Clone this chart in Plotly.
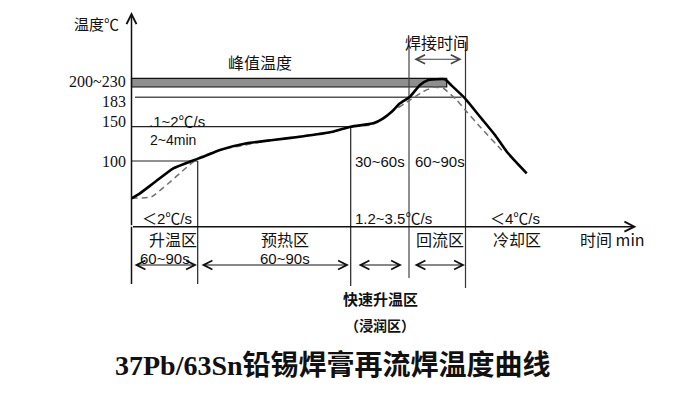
import plotly.graph_objects as go

# ---- schematic data (time position, temperature position) ----
solid_t = [0, 8.5, 21.8, 41.8, 60.2, 71.8, 88.5, 115.2, 141.5, 168.5, 201.5, 219.2,
           241.8, 251.8, 260.2, 268.5, 278.5, 288.5, 296.8, 304.5, 313.5, 318.5,
           333.5, 348.5, 363.5, 375.5, 395.2]
solid_T = [28.4, 33.4, 43.4, 58.4, 65.7, 70, 76.7, 83.4, 86.7, 90, 95, 100,
           103.4, 108.4, 115, 123.4, 130, 141.7, 146.7, 147.4, 147.4, 142.7,
           128.4, 110, 91.7, 74.7, 53.4]

dashed_t = [0, 20.2, 66.2, 88.5, 141.5, 201.5, 219.2, 240.2, 258.5, 278.5, 291.5,
            301.8, 311.8, 325.2, 335.2, 348.5, 370.2, 373.5]
dashed_T = [28.4, 30, 68.4, 76.7, 86.7, 95, 100, 101.7, 113.7, 126.7, 135,
            139.4, 138.4, 126.7, 115, 100, 76.7, 74.7]

tick_labels = ["100", "150", "183", "200~230"]
tick_levels = [65, 105, 125, 145]
level_100, level_150, level_183 = 65.7, 100, 129.4
band_low, band_high, band_end = 139.7, 148.4, 315.2

zone_bounds = [0, 66.2, 219.2, 277.5, 334]
zone_names = ["升温区", "预热区", "回流区", "冷却区"]
zone_name_t = [41.2, 153.5, 308.5, 385.2]
zone_rates = ["＜2℃/s", "1.2~3.5℃/s", "＜4℃/s"]
zone_rate_t = [8.5, 221.5, 356.5]

FS = "Noto Sans CJK SC"
SANS = "Liberation Sans, Noto Sans CJK SC"
SERIF = "Liberation Serif, Noto Sans CJK SC"
INK = "#111111"

fig = go.Figure()

# dashed curve first, then solid on top
fig.add_trace(go.Scatter(x=dashed_t, y=dashed_T, mode="lines",
                         line=dict(color="#707070", width=1.5, dash="6px,4px", shape="spline", smoothing=0.4),
                         hoverinfo="skip"))
fig.add_trace(go.Scatter(x=solid_t, y=solid_T, mode="lines",
                         line=dict(color="#000000", width=2.6, shape="spline", smoothing=0.5),
                         hoverinfo="skip"))

shapes = []
# peak band
shapes.append(dict(type="rect", x0=0, x1=band_end, y0=band_low, y1=band_high,
                   fillcolor="#8e8e8e", line=dict(color="#111", width=1.2), layer="below"))
# level lines
shapes.append(dict(type="line", x0=3.5, x1=330, y0=level_183, y1=level_183,
                   line=dict(color="#555", width=1.4), layer="below"))
shapes.append(dict(type="line", x0=0, x1=zone_bounds[2], y0=level_150, y1=level_150,
                   line=dict(color="#222", width=1.2), layer="below"))
shapes.append(dict(type="line", x0=0, x1=zone_bounds[1], y0=level_100, y1=level_100,
                   line=dict(color="#222", width=1.2), layer="below"))
# vertical zone lines
shapes.append(dict(type="line", x0=zone_bounds[1], x1=zone_bounds[1], y0=level_100, y1=-57.3,
                   line=dict(color="#222", width=1.2), layer="below"))
shapes.append(dict(type="line", x0=zone_bounds[2], x1=zone_bounds[2], y0=level_150, y1=-59.3,
                   line=dict(color="#222", width=1.2), layer="below"))
shapes.append(dict(type="line", x0=zone_bounds[3], x1=zone_bounds[3], y0=185, y1=-51.3,
                   line=dict(color="#444", width=1.2), layer="below"))
shapes.append(dict(type="line", x0=zone_bounds[4], x1=zone_bounds[4], y0=185, y1=-61.3,
                   line=dict(color="#333", width=1.2), layer="below"))
# y axis extension below x axis
shapes.append(dict(type="line", x0=0, x1=0, y0=0, y1=-57.3,
                   line=dict(color="#111", width=1.5), layer="below"))

annotations = []

def arrow(x, y, ax, ay, both=False, width=1.3, size=1.4, color="#111"):
    annotations.append(dict(x=x, y=y, ax=ax, ay=ay, xref="x", yref="y", axref="x", ayref="y",
                            text="", showarrow=True, arrowhead=5, startarrowhead=5,
                            arrowside="end+start" if both else "end",
                            arrowwidth=width, arrowsize=size, startarrowsize=size,
                            arrowcolor=color))

def txt(s, x, y, size=15, family=FS, xanchor="center", bold=False, color=INK):
    if bold:
        s = "<b>" + s + "</b>"
    annotations.append(dict(x=x, y=y, xref="x", yref="y", text=s, showarrow=False,
                            xanchor=xanchor, yanchor="middle",
                            font=dict(family=family, size=size, color=color)))

# axes with arrowheads
arrow(0, 214.7, 0, 0, width=1.5, size=1.3)
arrow(505, 0, 0, 0, width=1.5, size=1.3)

# duration arrows
arrow(330.2, 167.4, 281.2, 167.4, both=True, width=1.1, size=1.6, color="#444")
arrow_y = -38.3
arrow_spans = [(1.5, 65.5), (68.5, 217.5), (225.5, 270.5), (281.5, 333.5)]
for a, b in arrow_spans:
    arrow(b, arrow_y, a, arrow_y, both=True, width=1.1, size=1.6)

# tick labels
for lab, lv in zip(tick_labels, tick_levels):
    txt(lab, -3.5, lv, size=16, family=SERIF, xanchor="right")

txt("温度℃", -34.8, 203.4, size=15)
txt("峰值温度", 128.5, 165, size=16)
txt(".1~2℃/s", 15.5, 105, size=15, family=SANS, xanchor="left")
txt("2~4min", 16.5, 86.7, size=14, family=SANS, xanchor="left")
for r, t in zip(zone_rates, zone_rate_t):
    txt(r, t, 8.7, size=15, family=SANS, xanchor="left")
for n, t in zip(zone_names, zone_name_t):
    txt(n, t, -11.8, size=16)
txt("时间 min", 446.5, -11.8, size=16, xanchor="left")
txt("60~90s", 33.5, -31.3, size=15, family=SANS)
txt("60~90s", 153.5, -31.3, size=15, family=SANS)
txt("30~60s", 248.5, 65, size=15, family=SANS)
txt("60~90s", 308.5, 65, size=15, family=SANS)
txt("焊接时间", 305.2, 185, size=16)
txt("快速升温区", 248.5, -71.6, size=15, bold=True)
txt("（浸润区）", 248.5, -98.3, size=14, bold=True)
txt("37Pb/63Sn铅锡焊膏再流焊温度曲线", 201, -138.3, size=28, family=SERIF, bold=True)

fig.update_layout(
    width=693, height=393,
    margin=dict(l=0, r=0, t=0, b=0),
    paper_bgcolor="white", plot_bgcolor="white",
    showlegend=False,
    xaxis=dict(range=[-131.5, 561.5], visible=False, fixedrange=True),
    yaxis=dict(range=[-166.3, 226.7], visible=False, fixedrange=True),
    shapes=shapes, annotations=annotations,
)

fig.write_html("out.html", config={"displayModeBar": False},
               post_script="document.body.style.margin='0';")
